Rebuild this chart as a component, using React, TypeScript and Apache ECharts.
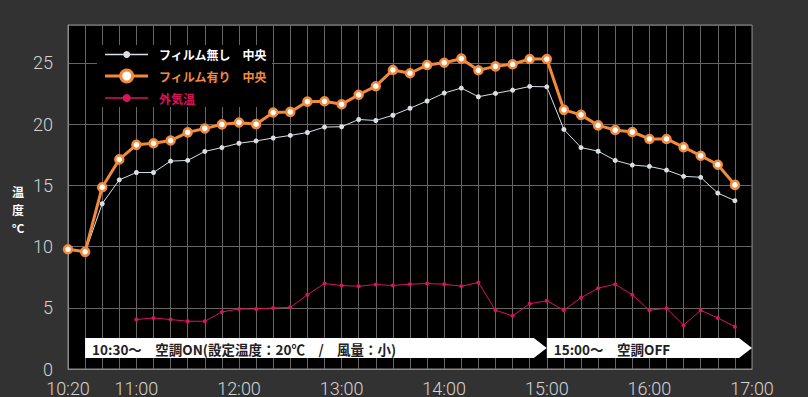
import React, { useEffect, useRef } from "react";
import * as echarts from "echarts";

// ---- data ----
const times = [
  "10:20", "10:30", "10:40", "10:50",
  "11:00", "11:10", "11:20", "11:30", "11:40", "11:50",
  "12:00", "12:10", "12:20", "12:30", "12:40", "12:50",
  "13:00", "13:10", "13:20", "13:30", "13:40", "13:50",
  "14:00", "14:10", "14:20", "14:30", "14:40", "14:50",
  "15:00", "15:10", "15:20", "15:30", "15:40", "15:50",
  "16:00", "16:10", "16:20", "16:30", "16:40", "16:50",
];
const filmNone = [
  9.8, 9.5, 13.5, 15.45,
  16.05, 16.05, 16.98, 17.04, 17.77, 18.09,
  18.44, 18.63, 18.87, 19.08, 19.32, 19.76,
  19.79, 20.38, 20.3, 20.73, 21.3, 21.89,
  22.54, 22.95, 22.24, 22.51, 22.78, 23.08,
  23.05, 19.57, 18.09, 17.79, 17.04, 16.66,
  16.55, 16.25, 15.74, 15.66, 14.37, 13.75,
];
const filmWith = [
  9.78, 9.57, 14.85, 17.12,
  18.31, 18.44, 18.66, 19.33, 19.65, 19.98,
  20.14, 20.0, 20.95, 21.0, 21.84, 21.87,
  21.62, 22.4, 23.1, 24.43, 24.16, 24.83,
  25.02, 25.35, 24.4, 24.72, 24.89, 25.32,
  25.32, 21.17, 20.76, 19.9, 19.52, 19.36,
  18.79, 18.79, 18.12, 17.42, 16.69, 15.04,
];
const outside: (number | null)[] = [
  null, null, null, null,
  4.04, 4.17, 4.04, 3.9, 3.9, 4.66,
  4.9, 4.9, 4.98, 5.04, 6.06, 6.98,
  6.82, 6.76, 6.9, 6.82, 6.93, 6.98,
  6.93, 6.76, 7.06, 4.8, 4.34, 5.33,
  5.58, 4.8, 5.82, 6.6, 6.93, 6.06,
  4.8, 4.96, 3.58, 4.8, 4.17, 3.45,
];
const xTickLabels = ["10:20", "11:00", "12:00", "13:00", "14:00", "15:00", "16:00", "17:00"];
const yTicks = [0, 5, 10, 15, 20, 25];
const seriesNames = ["フィルム無し　中央", "フィルム有り　中央", "外気温"];
const phaseStarts = ["10:30", "15:00"];
const phaseEnds = ["15:00", "17:00"];
const phaseLabels = ["10:30～　空調ON(設定温度：20℃　/　風量：小)", "15:00～　空調OFF"];
const yAxisTitleParts = ["温", "度", "°C"];

// ---- styles ----
const C_WHITE = "#d8e0e4";
const C_ORANGE = "#f28a3c";
const C_MAGENTA = "#d8145e";
const LABEL_FONT = 'Roboto, "Liberation Sans", sans-serif';
const JP_FONT = '"Noto Sans CJK JP", sans-serif';

const toMin = (s: string) => {
  const [h, m] = s.split(":").map(Number);
  return h * 60 + m;
};
const fmtMin = (v: number) => {
  const h = Math.floor(v / 60);
  const m = v % 60;
  return `${h}:${m < 10 ? "0" + m : m}`;
};

export default function App() {
  const ref = useRef<HTMLDivElement>(null);
  useEffect(() => {
    if (!ref.current) return;
    const chart = echarts.init(ref.current, undefined, { renderer: "svg" });
    const pair = (vals: (number | null)[]) =>
      times.map((t, i) => [toMin(t), vals[i]]).filter((d) => d[1] !== null);

    const legendRows = [
      { y: 54.5, color: C_WHITE, lw: 1.5, r: 3.5, fill: C_WHITE, stroke: C_WHITE, sw: 0, text: seriesNames[0], tc: "#ffffff" },
      { y: 76, color: C_ORANGE, lw: 3, r: 6, fill: "#ffffff", stroke: C_ORANGE, sw: 3, text: seriesNames[1], tc: C_ORANGE },
      { y: 98, color: C_MAGENTA, lw: 1.5, r: 4, fill: C_MAGENTA, stroke: C_MAGENTA, sw: 0, text: seriesNames[2], tc: C_MAGENTA },
    ];
    const legendGraphics: any[] = [
      { type: "rect", shape: { x: 97, y: 45, width: 175, height: 62 }, style: { fill: "#000" }, z: 10 },
    ];
    legendRows.forEach((r) => {
      legendGraphics.push(
        { type: "line", shape: { x1: 105, y1: r.y, x2: 148, y2: r.y }, style: { stroke: r.color, lineWidth: r.lw }, z: 11 },
        { type: "circle", shape: { cx: 126.7, cy: r.y, r: r.r }, style: { fill: r.fill, stroke: r.stroke, lineWidth: r.sw }, z: 12 },
        {
          type: "text",
          x: 159,
          y: r.y,
          style: { text: r.text, fill: r.tc, font: `bold 12px ${JP_FONT}`, verticalAlign: "middle" },
          z: 12,
        }
      );
    });

    const titleY = [191, 209, 227];
    const titleGraphics = yAxisTitleParts.map((t, i) => ({
      type: "text",
      x: 18,
      y: titleY[i],
      style: {
        text: t,
        fill: "#ffffff",
        font: `bold 12px ${JP_FONT}`,
        lineHeight: 12,
        align: "center",
        verticalAlign: "middle",
      },
    }));

    const option: any = {
      animation: false,
      backgroundColor: "#323232",
      grid: {
        left: 68,
        top: 25,
        right: 56,
        bottom: 24.5,
        show: true,
        backgroundColor: "#000",
        borderColor: "#8a8a8a",
        borderWidth: 1,
      },
      xAxis: {
        type: "value",
        min: toMin(xTickLabels[0]),
        max: toMin(xTickLabels[xTickLabels.length - 1]),
        interval: 10,
        axisLine: { show: true, lineStyle: { color: "#8a8a8a" } },
        axisTick: { show: false },
        splitLine: { show: true, lineStyle: { color: "#666666", width: 1 } },
        axisLabel: {
          color: "#d4d4d4",
          fontFamily: LABEL_FONT,
          fontWeight: 300,
          fontSize: 18,
          margin: 10,
          showMinLabel: true,
          showMaxLabel: true,
          formatter: (v: number) => (xTickLabels.includes(fmtMin(v)) ? fmtMin(v) : ""),
        },
      },
      yAxis: {
        type: "value",
        min: yTicks[0],
        max: 28.1,
        interval: yTicks[1] - yTicks[0],
        axisLine: { show: true, lineStyle: { color: "#8a8a8a" } },
        axisTick: { show: false },
        splitLine: { show: true, lineStyle: { color: "#666666", width: 1 } },
        axisLabel: {
          color: "#d4d4d4",
          fontFamily: LABEL_FONT,
          fontWeight: 300,
          fontSize: 18,
          margin: 15,
          showMaxLabel: false,
          formatter: (v: number) => (yTicks.includes(v) ? String(v) : ""),
        },
      },
      graphic: [...titleGraphics, ...legendGraphics],
      series: [
        {
          type: "custom",
          name: "phases",
          coordinateSystem: "cartesian2d",
          encode: { x: [0, 1], y: 2 },
          data: phaseStarts.map((s, i) => [toMin(s), toMin(phaseEnds[i]), 0]),
          z: 5,
          renderItem: (params: any, api: any) => {
            const p0 = api.coord([api.value(0), 0]);
            const p1 = api.coord([api.value(1), 0]);
            const x0 = p0[0];
            const x1 = p1[0];
            const yb = p0[1];
            const top = yb - 31;
            const bot = yb - 11;
            const tip = 13;
            return {
              type: "group",
              children: [
                {
                  type: "polygon",
                  shape: {
                    points: [
                      [x0, top],
                      [x1 - tip, top],
                      [x1, (top + bot) / 2],
                      [x1 - tip, bot],
                      [x0, bot],
                    ],
                  },
                  style: { fill: "#ffffff" },
                },
                {
                  type: "text",
                  x: x0 + 7,
                  y: (top + bot) / 2 + 1,
                  style: {
                    text: phaseLabels[params.dataIndex],
                    fill: "#222222",
                    font: `bold 13.5px ${JP_FONT}`,
                    verticalAlign: "middle",
                  },
                },
              ],
            };
          },
        },
        {
          type: "line",
          name: seriesNames[2],
          data: pair(outside),
          symbol: "circle",
          symbolSize: 4,
          lineStyle: { color: C_MAGENTA, width: 1 },
          itemStyle: { color: C_MAGENTA },
          z: 6,
        },
        {
          type: "line",
          name: seriesNames[0],
          data: pair(filmNone),
          symbol: "circle",
          symbolSize: 5,
          lineStyle: { color: C_WHITE, width: 1 },
          itemStyle: { color: C_WHITE },
          z: 7,
        },
        {
          type: "line",
          name: seriesNames[1],
          data: pair(filmWith),
          symbol: "circle",
          symbolSize: 8,
          lineStyle: { color: C_ORANGE, width: 3 },
          itemStyle: { color: "#ffffff", borderColor: C_ORANGE, borderWidth: 2.5 },
          z: 8,
        },
      ],
    };
    chart.setOption(option);
    return () => chart.dispose();
  }, []);

  return (
    <div
      ref={ref}
      style={{ position: "fixed", left: 0, top: 0, width: 808, height: 397 }}
    />
  );
}
